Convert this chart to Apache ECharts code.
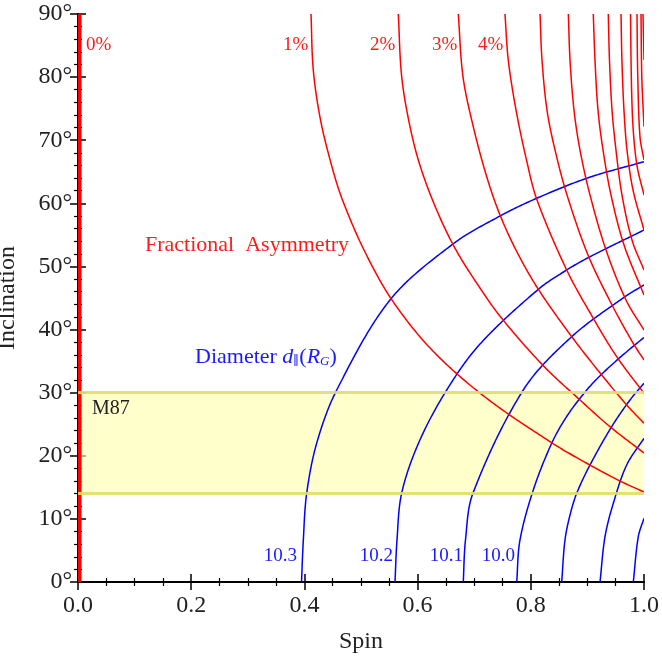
<!DOCTYPE html>
<html>
<head>
<meta charset="utf-8">
<script src="https://cdn.jsdelivr.net/npm/echarts@6/dist/echarts.min.js"></script>
<style>
html,body{margin:0;padding:0;background:#fff;}
#c{width:662px;height:658px;}
</style>
</head>
<body>
<div id="c"></div>
<script>
// ---- data: [spin, inclination(deg)] ----
const asym0 = [[0,0],[0,90]];
const asym1 = [[0.4117,90],[0.4157,81.13],[0.4285,73.21],[0.4488,65.76],[0.4673,60.53],[0.5053,52.61],[0.5548,44.68],[0.6254,36.76],[0.7191,29.31],[0.8375,22.03],[0.9011,18.70],[0.9576,16.00],[1.0,14.26]];
const asym2 = [[0.5659,90],[0.5719,80.07],[0.5866,72.14],[0.6051,65.76],[0.6337,58.94],[0.6678,52.61],[0.7102,46.59],[0.7486,41.78],[0.8221,34.27],[0.8869,28.84],[0.9399,24.61],[1.0,20.44]];
const asym3 = [[0.6719,90],[0.6802,80.07],[0.6984,72.14],[0.7221,64.22],[0.7456,58.15],[0.7756,52.29],[0.8133,46.38],[0.8723,38.87],[0.9253,32.80],[0.9694,28.05],[1.0,25.15]];
const asym4 = [[0.7544,90],[0.7602,82.71],[0.7739,74.79],[0.7924,66.87],[0.8110,60.53],[0.8634,49.44],[0.9104,41.78],[0.9518,35.70],[1.0,29.90]];
const asym5 = [[0.8163,90],[0.8198,82.71],[0.8286,74.79],[0.8428,68.45],[0.8640,61.32],[0.9011,51.81],[0.9435,43.89],[0.9806,37.87],[1.0,35.18]];
const asym6 = [[0.8663,90],[0.8693,82.71],[0.8763,74.79],[0.8869,68.45],[0.9046,61.32],[0.9329,52.61],[0.9682,44.68],[1.0,39.93]];
const asym7 = [[0.9104,90],[0.9134,82.71],[0.9187,74.79],[0.9276,68.45],[0.9417,61.32],[0.9647,53.40],[1.0,45.48]];
const asym8 = [[0.9369,90],[0.9390,82.71],[0.9435,74.79],[0.9505,68.45],[0.9611,61.32],[0.9788,54.19],[1.0,49.44]];
const asym9 = [[0.9594,90],[0.9610,82.71],[0.9646,74.79],[0.9700,68.45],[0.9806,62.11],[1.0,55.77]];
const asym10 = [[0.9762,90],[0.9776,80.07],[0.9806,72.14],[0.9876,66.00],[1.0,61.32]];
const asym11 = [[0.9876,90],[0.9890,80.07],[0.9929,70.56],[1.0,66.87]];
const asym12 = [[0.9947,90],[0.9961,80.07],[1.0,72.14]];
const asym13 = [[0.9982,90],[1.0,82.71]];

const diam103 = [[0.3949,0],[0.3981,6.66],[0.4041,14.10],[0.4223,22.18],[0.4571,30.42],[0.5512,44.68],[0.6625,53.56],[0.7456,57.99],[0.8104,60.80],[0.9016,64.06],[1.0,66.60]];
const diam102 = [[0.5601,0],[0.5636,6.66],[0.5719,14.10],[0.6025,22.18],[0.6514,30.42],[0.7102,37.70],[0.8133,46.38],[0.8634,49.44],[0.9046,51.54],[1.0,55.77]];
const diam101 = [[0.6807,0],[0.6846,6.66],[0.6979,14.10],[0.7867,30.42],[0.8723,38.87],[0.9664,45.21],[1.0,47.06]];
const diam100 = [[0.7751,0],[0.7809,6.66],[0.8044,14.58],[0.8369,21.98],[0.8640,26.30],[0.8988,30.42],[0.9293,33.28],[0.9694,36.49],[1.0,38.74]];
const diam099 = [[0.8546,0],[0.8604,6.66],[0.8693,10.62],[0.8811,14.05],[0.9046,18.54],[0.9429,24.61],[0.9753,28.84],[1.0,31.48]];
const diam098 = [[0.9223,0],[0.9311,7.18],[0.9458,12.47],[0.9694,18.54],[1.0,22.77]];
const diam097 = [[0.9811,0],[0.9899,7.18],[1.0,10.09]];

const m87Range = [14, 30];
const xRange = [0, 1];
const yRange = [0, 90];

const redCurves = [asym1, asym2, asym3, asym4, asym5, asym6, asym7, asym8, asym9, asym10, asym11, asym12, asym13];
const blueCurves = [diam103, diam102, diam101, diam100, diam099, diam098, diam097];

const FONT = '"Liberation Serif", "DejaVu Serif", serif';
const RED = '#ff1a1a', BLUE = '#1a1aff';

const chart = echarts.init(document.getElementById('c'), null, {renderer: 'canvas'});

// smooth C1 spline through projected pixel points, sampled densely (rendering only)
function splinePixels(pts) {
  const n = pts.length;
  if (n < 3) return pts;
  const dist = (a, b) => Math.hypot(b[0] - a[0], b[1] - a[1]);
  const tan = [];
  for (let i = 0; i < n; i++) {
    if (i === 0) { const d = dist(pts[0], pts[1]); tan.push([(pts[1][0]-pts[0][0])/d, (pts[1][1]-pts[0][1])/d]); }
    else if (i === n - 1) { const d = dist(pts[n-2], pts[n-1]); tan.push([(pts[n-1][0]-pts[n-2][0])/d, (pts[n-1][1]-pts[n-2][1])/d]); }
    else { const s = dist(pts[i-1], pts[i]) + dist(pts[i], pts[i+1]); tan.push([(pts[i+1][0]-pts[i-1][0])/s, (pts[i+1][1]-pts[i-1][1])/s]); }
  }
  const out = [pts[0]];
  for (let i = 0; i < n - 1; i++) {
    const p1 = pts[i], p2 = pts[i+1], d = dist(p1, p2);
    const c1 = [p1[0] + tan[i][0]*d/3, p1[1] + tan[i][1]*d/3];
    const c2 = [p2[0] - tan[i+1][0]*d/3, p2[1] - tan[i+1][1]*d/3];
    const steps = Math.max(4, Math.ceil(d / 2));
    for (let k = 1; k <= steps; k++) {
      const t = k / steps, u = 1 - t;
      out.push([
        u*u*u*p1[0] + 3*u*u*t*c1[0] + 3*u*t*t*c2[0] + t*t*t*p2[0],
        u*u*u*p1[1] + 3*u*u*t*c1[1] + 3*u*t*t*c2[1] + t*t*t*p2[1]
      ]);
    }
  }
  return out;
}

function curve(data, color, width, z) {
  return {
    type: 'custom', coordinateSystem: 'cartesian2d', xAxisIndex: 0, yAxisIndex: 0,
    data: data, encode: {x: 0, y: 1}, clip: true, silent: true, animation: false, z: z,
    renderItem: function (params, api) {
      if (params.dataIndex !== 0) return null;
      const pts = data.map(p => api.coord(p));
      return {
        type: 'polyline',
        shape: {points: splinePixels(pts)},
        style: {fill: null, stroke: color, lineWidth: width, lineJoin: 'round'}
      };
    }
  };
}

const series = [];
series.push({
  type: 'line', data: [], z: 1, silent: true, animation: false,
  markArea: {
    silent: true,
    itemStyle: {color: 'rgba(255,255,170,0.6)'},
    data: [[{yAxis: m87Range[0]}, {yAxis: m87Range[1]}]]
  },
  markLine: {
    silent: true, symbol: 'none', label: {show: false},
    lineStyle: {color: 'rgba(222,222,110,0.9)', width: 3, type: 'solid'},
    data: [{yAxis: m87Range[0]}, {yAxis: m87Range[1]}]
  }
});
blueCurves.forEach(d => series.push(curve(d, '#0000ff', 1.5, 3)));
redCurves.forEach(d => series.push(curve(d, '#ff0000', 1.5, 4)));
series.push(curve(asym0, '#ff0000', 7, 4));

const axisCommon = {
  axisLine: {show: true, lineStyle: {color: '#000', width: 2}},
  axisTick: {show: true, inside: true, length: 8, lineStyle: {color: '#000', width: 1.5}},
  splitLine: {show: false},
  minorSplitLine: {show: false}
};
function minor(n) { return {show: true, splitNumber: n, length: 4, lineStyle: {color: '#000', width: 1.2}}; }

const option = {
  animation: false,
  backgroundColor: '#fff',
  grid: {left: 78, right: 18, top: 14, bottom: 76, containLabel: false, outerBoundsMode: 'none'},
  xAxis: [
    Object.assign({
      type: 'value', min: xRange[0], max: xRange[1], interval: 0.2,
      name: 'Spin', nameLocation: 'middle', nameGap: 48,
      nameTextStyle: {fontFamily: FONT, fontSize: 24, color: '#222'},
      axisLabel: {fontFamily: FONT, fontSize: 24, color: '#222', margin: 12,
        formatter: v => v.toFixed(1)},
      minorTick: minor(4)
    }, axisCommon),
    Object.assign({
      type: 'value', min: xRange[0], max: xRange[1], interval: 0.2, position: 'top',
      axisLabel: {show: false}, minorTick: minor(4)
    }, axisCommon)
  ],
  yAxis: [
    Object.assign({
      type: 'value', min: yRange[0], max: yRange[1], interval: 10,
      name: 'Inclination', nameLocation: 'middle', nameGap: 58, nameRotate: 90,
      nameTextStyle: {fontFamily: FONT, fontSize: 24, color: '#222'},
      axisLabel: {fontFamily: FONT, fontSize: 24, color: '#222', margin: 6,
        formatter: v => v + '°'},
      minorTick: minor(5)
    }, axisCommon),
    Object.assign({
      type: 'value', min: yRange[0], max: yRange[1], interval: 10, position: 'right',
      axisLabel: {show: false}, minorTick: minor(5)
    }, axisCommon)
  ],
  series: series,
  graphic: [
    {type: 'text', x: 86, y: 45, z: 10, style: {text: '0%', font: '19px ' + FONT, fill: RED, textVerticalAlign: 'middle'}},
    {type: 'text', x: 283, y: 45, z: 10, style: {text: '1%', font: '19px ' + FONT, fill: RED, textVerticalAlign: 'middle'}},
    {type: 'text', x: 370, y: 45, z: 10, style: {text: '2%', font: '19px ' + FONT, fill: RED, textVerticalAlign: 'middle'}},
    {type: 'text', x: 432, y: 45, z: 10, style: {text: '3%', font: '19px ' + FONT, fill: RED, textVerticalAlign: 'middle'}},
    {type: 'text', x: 478, y: 45, z: 10, style: {text: '4%', font: '19px ' + FONT, fill: RED, textVerticalAlign: 'middle'}},
    {type: 'text', x: 145, y: 245, z: 10, style: {text: 'Fractional  Asymmetry', font: '22px ' + FONT, fill: RED, textVerticalAlign: 'middle'}},
    {type: 'text', x: 195, y: 357, z: 10, style: {
      text: '{n|Diameter }{i|d}{s|∥}{n|(}{i|R}{s|G}{n|)}',
      textVerticalAlign: 'middle',
      rich: {
        n: {fontFamily: FONT, fontSize: 22, fill: BLUE},
        i: {fontFamily: FONT, fontSize: 22, fontStyle: 'italic', fill: BLUE},
        s: {fontFamily: FONT, fontSize: 13, fontStyle: 'italic', fill: BLUE, verticalAlign: 'bottom', padding: [10, 0, 0, 0]}
      }
    }},
    {type: 'text', x: 92, y: 409, z: 10, style: {text: 'M87', font: '20px ' + FONT, fill: '#222', textVerticalAlign: 'middle'}},
    {type: 'text', x: 297, y: 556, z: 10, style: {text: '10.3', font: '19px ' + FONT, fill: BLUE, textAlign: 'right', textVerticalAlign: 'middle'}},
    {type: 'text', x: 393, y: 556, z: 10, style: {text: '10.2', font: '19px ' + FONT, fill: BLUE, textAlign: 'right', textVerticalAlign: 'middle'}},
    {type: 'text', x: 463, y: 556, z: 10, style: {text: '10.1', font: '19px ' + FONT, fill: BLUE, textAlign: 'right', textVerticalAlign: 'middle'}},
    {type: 'text', x: 515, y: 556, z: 10, style: {text: '10.0', font: '19px ' + FONT, fill: BLUE, textAlign: 'right', textVerticalAlign: 'middle'}}
  ]
};
chart.setOption(option);
</script>
</body>
</html>
